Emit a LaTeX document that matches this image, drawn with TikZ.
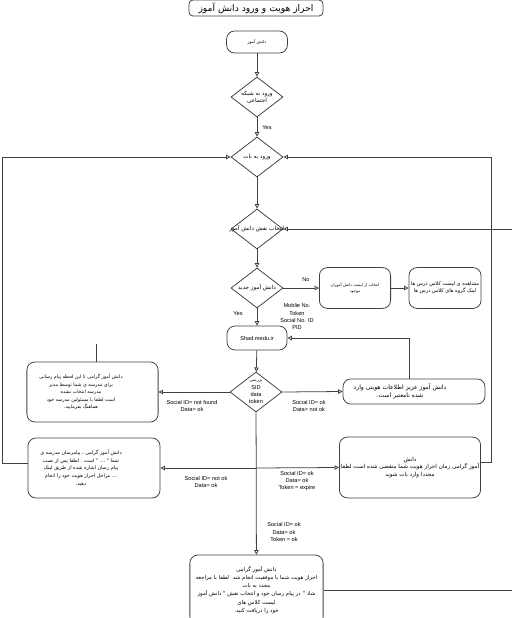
\documentclass[tikz,border=0pt]{standalone}
\usepackage{fontspec}
\setmainfont{Liberation Sans}
\newfontfamily\farsi[Script=Arabic]{DejaVu Sans}
\TeXXeTstate=1
\usetikzlibrary{arrows.meta,shapes.geometric,calc}
\newcommand{\fa}[1]{{\farsi\beginR#1\endR}}

\tikzset{
  flow/.style={line width=0.55pt,draw=black!75},
  arr/.style={flow,-{Triangle[open,length=1.1mm,width=1.1mm]}},
  box/.style={draw=black!75,line width=0.55pt,rounded corners=2mm,align=center,inner sep=1pt,font=\fontsize{4}{5.4}\selectfont},
  dec/.style={draw=black!75,line width=0.55pt,diamond,minimum width=1.3cm,minimum height=1cm,inner sep=0pt},
  txt/.style={align=center,inner sep=0pt,font=\fontsize{4}{5.2}\selectfont},
  lbl/.style={align=center,inner sep=0pt,font=\fontsize{4}{5}\selectfont},
}

\begin{document}
\begin{tikzpicture}[x=0.025cm,y=-0.025cm]
  % the page, measured in pixels of the scan
  \useasboundingbox (0,0) rectangle (512,618);
  % title
  \node[box,rounded corners=1mm,minimum width=3.35cm,minimum height=0.4cm,font=\fontsize{6.5}{8}\selectfont] (title) at (256,8) {\fa{احراز هویت و ورود دانش آموز}};
  % start
  \node[box,minimum width=1.52cm,minimum height=0.55cm,font=\fontsize{3}{4}\selectfont] (start) at (257,42) {\fa{دانش آموز}};
  % decisions down the middle
  \node[dec] (social) at (257,97) {};
  \node[txt] (socialt) at (social) {\fa{ورود به شبکه}\\\fa{اجتماعی}};
  \node[dec] (bot) at (257,157) {};
  \node[txt] (bott) at (bot) {\fa{ورود به بات}};
  \node[dec] (role) at (257,229) {};
  \node[txt] (rolet) at (role) {\fa{انتخاب نقش دانش آموز}};
  \node[dec] (isnew) at (257,288) {};
  \node[txt] (isnewt) at (isnew) {\fa{دانش آموز جدید}};
  % boxes on the right of the new student test
  \node[box,minimum width=1.78cm,minimum height=1.02cm,font=\fontsize{2.8}{4.6}\selectfont] (pick) at (355,288) {\fa{انتخاب از لیست دانش آموزان}\\\fa{موجود}};
  \node[box,minimum width=1.8cm,minimum height=1.02cm,font=\fontsize{3.6}{5}\selectfont] (classes) at (445,288) {\fa{مشاهده ی لیست کلاس درس ها}\\\fa{لینک گروه های کلاس درس ها}};
  % shad
  \node[box,minimum width=1.5cm,minimum height=0.6cm] (shad) at (257,338) {Shad.medu.ir};
  % the check
  \node[dec] (check) at (256,392) {};
  \node[txt] (checkt) at (check) {{\fontsize{3}{4}\selectfont\fa{بررسی}}\\SID\\data\\token};
  % messages (their text sits off centre)
  \node[box,minimum width=3.28cm,minimum height=1.5cm] (nomsg) at (92.5,392) {};
  \node[txt,font=\fontsize{3.4}{5.4}\selectfont] (nomsgt) at (81,392) {\fa{دانش آموز گرامی تا این لحظه پیام رسانی}\\\fa{برای مدرسه ی شما توسط مدیر}\\\fa{مدرسه انتخاب نشده}\\\fa{است لطفا با مسئولین مدرسه خود}\\\fa{هماهنگ بفرمایید.}};
  \node[box,minimum width=3.55cm,minimum height=0.63cm] (badid) at (414,391.5) {};
  \node[txt,font=\fontsize{4.3}{5.6}\selectfont] (badidt) at (400,391.5) {\fa{دانش آموز عزیز اطلاعات هویتی وارد}\\\fa{شده نامعتبر است.}};
  \node[box,minimum width=3.3cm,minimum height=1.5cm] (install) at (94,468) {};
  \node[txt,font=\fontsize{3.5}{5.6}\selectfont] (installt) at (81,468) {\fa{دانش آموز گرامی ، پیامرسان مدرسه ی}\\\fa{شما " ... " است . لطفا پس از نصب}\\\fa{پیام رسان اشاره شده از طریق لینک}\\\fa{... مراحل احراز هویت خود را انجام}\\\fa{دهید.}};
  \node[box,minimum width=3.35cm,minimum height=1.52cm] (expired) at (410,467.5) {\fa{دانش}\\\fa{آموز گرامی زمان احراز هویت شما منقضی شده است لطفا}\\\fa{مجددا وارد بات شوید}};
  \node[box,minimum width=3.33cm,minimum height=1.75cm,font=\fontsize{3.85}{5.8}\selectfont] (done) at (256.5,590) {\fa{دانش آموز گرامی}\\\fa{احراز هویت شما با موفقیت انجام شد. لطفا با مراجعه}\\\fa{مجدد به بات}\\\fa{شاد " در پیام رسان خود و انتخاب نقش " دانش آموز}\\\fa{لیست کلاس های}\\\fa{خود را دریافت کنید.}};
  % main line
  \draw[arr] (start) -- (social);
  \draw[arr] (social) -- (bot);
  \draw[arr] (bot) -- (role);
  \draw[arr] (role) -- (isnew);
  \draw[arr] (isnew) -- (shad);
  \draw[arr] (shad) -- (check);
  \draw[arr] (check) -- (done);
  % new student branch
  \draw[arr] (isnew.east) -- (pick.west);
  \draw[arr] (pick) -- (classes);
  % checks going sideways
  \draw[arr] (check.west) -- (nomsg.east);
  \draw[arr] (check.east) -- (badid.west);
  \draw[arr] ([xshift=-1.25mm]badid.north) |- (shad.east);
  \coordinate (split) at (check.south |- install.east);
  \draw[arr] (split) -- (install.east);
  \draw[arr] (split) -- (expired.west);
  % back to the bot
  \coordinate (lrail) at (2,157);
  \coordinate (rrail) at (491,157);
  \coordinate (frail) at (516,229);
  \draw[arr] ([yshift=1.25mm]install.west) -| (lrail) -- (bot.west);
  \draw[arr] ([yshift=1.25mm]expired.east) -| (rrail) -- (bot.east);
  \draw[arr] (done.east) -| (frail) -- (role.east);
  \coordinate (lstub) at ($(nomsg.north)+(3.5,-18)$);
  \draw[flow] (lstub) -- (lstub |- nomsg.north);
  % labels
  \node[lbl] (yes1) at (267,128) {Yes};
  \node[lbl] (no1) at (306,280) {No};
  \node[lbl] (yes2) at (238,314) {Yes};
  \node[lbl] (ids) at (297,316.5) {Moblie No.\\Token\\Social No. ID\\PID};
  \node[lbl] (lnf) at (192,405.5) {Social ID= not found\\Data= ok};
  \node[lbl] (lno) at (309,405.5) {Social ID= ok\\Data= not ok};
  \node[lbl] (lnk) at (206,481.5) {Social ID= not ok\\Data= ok};
  \node[lbl] (lex) at (297,481.5) {Social ID= ok\\Data= ok\\Token = expire};
  \node[lbl] (lok) at (284,532) {Social ID= ok\\Data= ok\\Token = ok};
\end{tikzpicture}
\end{document}
